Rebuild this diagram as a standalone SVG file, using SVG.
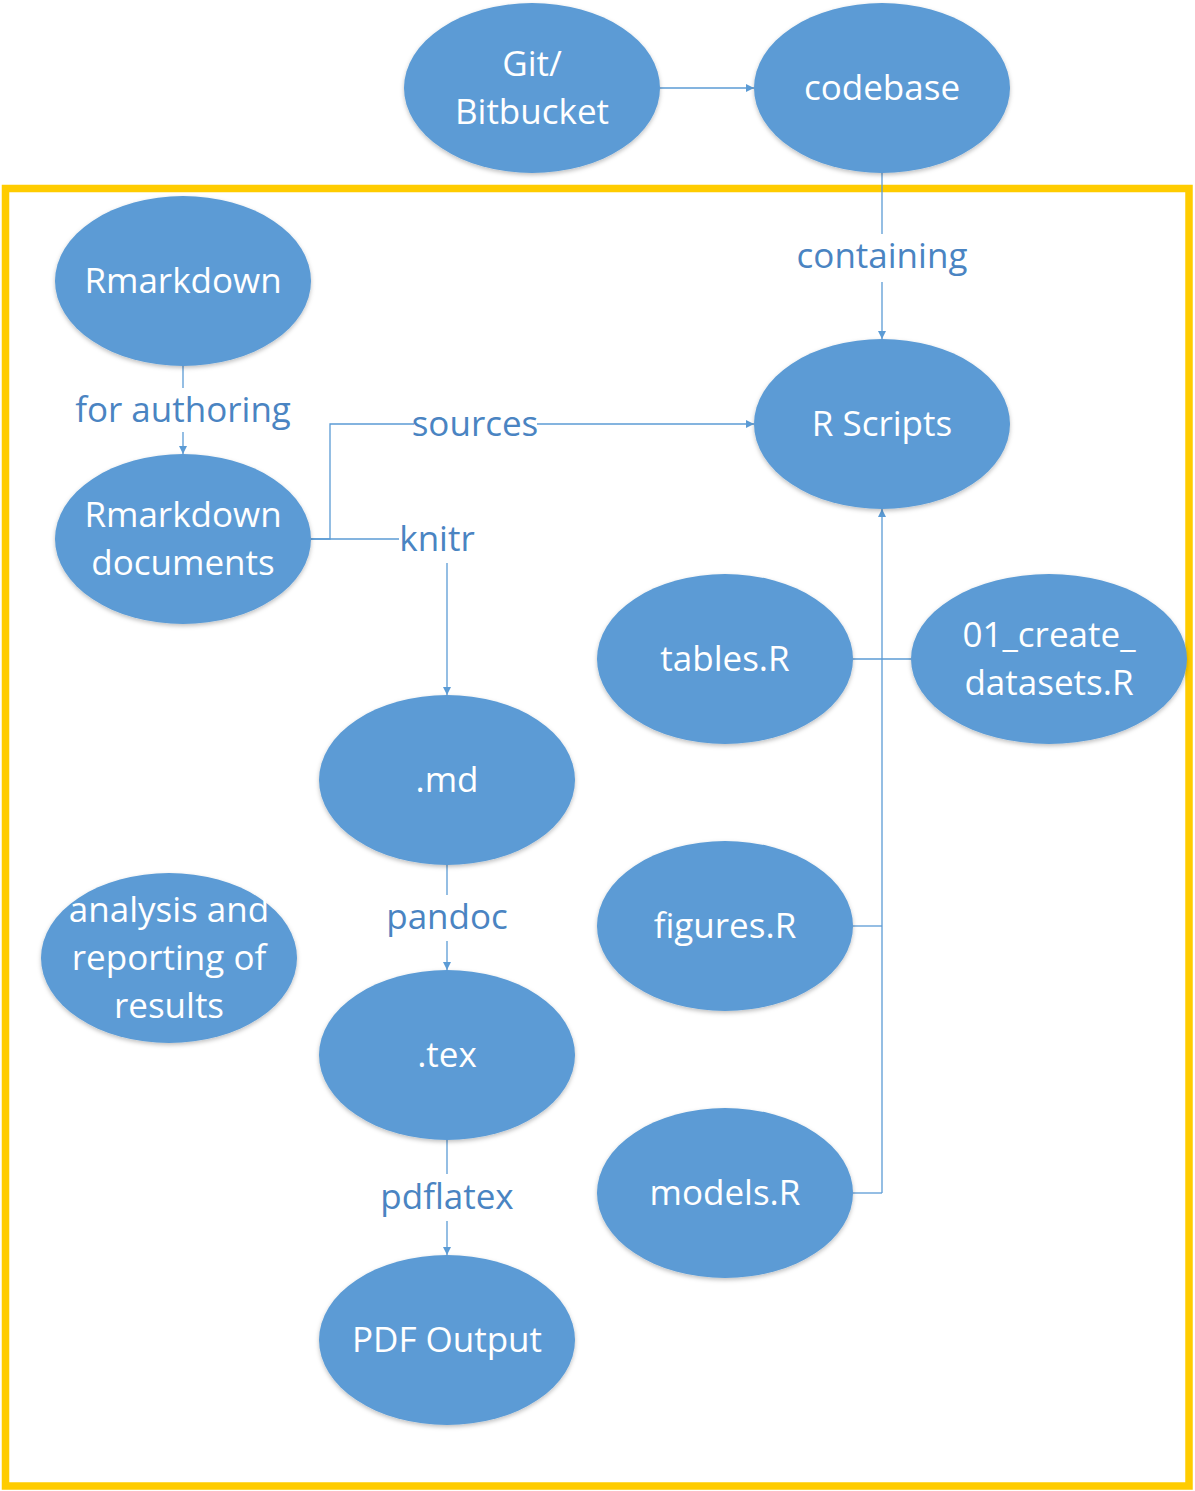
<svg xmlns="http://www.w3.org/2000/svg" width="1195" height="1491" viewBox="0 0 1195 1491">
<defs>
<style>
.node ellipse{fill:#5B9BD5;filter:url(#sh)}
.node text{fill:#ffffff;font-family:"Open Sans","Noto Sans","Liberation Sans",sans-serif;font-size:35px;text-anchor:middle}
.conn path,.conn line{stroke:#5B9BD5;stroke-width:1.3;fill:none}
.lbl{fill:#4A84C2;font-family:"Open Sans","Noto Sans","Liberation Sans",sans-serif;font-size:35px;text-anchor:middle}
.arrow{marker-end:url(#ah)}
</style>
<filter id="sh" x="-10%" y="-10%" width="120%" height="125%">
<feDropShadow dx="0" dy="2" stdDeviation="2" flood-color="#000" flood-opacity="0.25"/>
</filter>
<marker id="ah" viewBox="0 0 10 10" refX="10" refY="5" markerWidth="8" markerHeight="8" markerUnits="userSpaceOnUse" orient="auto">
<path d="M0,0 L10,5 L0,10 Z" fill="#5B9BD5"/>
</marker>
</defs>
<rect width="1195" height="1491" fill="#ffffff"/>
<rect id="frame" x="5.5" y="188.5" width="1183.5" height="1297.5" fill="none" stroke="#FFCC00" stroke-width="7.5"/>

<g id="connectors" class="conn">
<line class="arrow" x1="660" y1="88" x2="754" y2="88"/>
<line x1="882" y1="173" x2="882" y2="234"/>
<line class="arrow" x1="882" y1="282" x2="882" y2="339"/>
<line x1="183" y1="366" x2="183" y2="388"/>
<line class="arrow" x1="183" y1="432" x2="183" y2="454"/>
<path d="M311,539 H330 V424 H414"/>
<line class="arrow" x1="537" y1="424" x2="754" y2="424"/>
<line x1="311" y1="539" x2="399" y2="539"/>
<line class="arrow" x1="447" y1="563" x2="447" y2="695"/>
<line x1="447" y1="865" x2="447" y2="895"/>
<line class="arrow" x1="447" y1="941" x2="447" y2="970"/>
<line x1="447" y1="1140" x2="447" y2="1174"/>
<line class="arrow" x1="447" y1="1221" x2="447" y2="1255"/>
<line x1="853" y1="659" x2="911" y2="659"/>
<line x1="853" y1="926" x2="882" y2="926"/>
<path d="M853,1193 H882"/>
<line class="arrow" x1="882" y1="1193" x2="882" y2="509"/>
<text class="lbl" x="882" y="268">containing</text>
<text class="lbl" x="183" y="422">for authoring</text>
<text class="lbl" x="475" y="436">sources</text>
<text class="lbl" x="437" y="551">knitr</text>
<text class="lbl" x="447" y="929">pandoc</text>
<text class="lbl" x="447" y="1209">pdflatex</text>
</g>

<g id="git" class="node"><ellipse cx="532" cy="88" rx="128" ry="85"/><text x="532" y="76">Git/</text><text x="532" y="124">Bitbucket</text></g>
<g id="codebase" class="node"><ellipse cx="882" cy="88" rx="128" ry="85"/><text x="882" y="100">codebase</text></g>
<g id="rmarkdown" class="node"><ellipse cx="183" cy="281" rx="128" ry="85"/><text x="183" y="293">Rmarkdown</text></g>
<g id="rmddocs" class="node"><ellipse cx="183" cy="539" rx="128" ry="85"/><text x="183" y="527">Rmarkdown</text><text x="183" y="575">documents</text></g>
<g id="rscripts" class="node"><ellipse cx="882" cy="424" rx="128" ry="85"/><text x="882" y="436">R Scripts</text></g>
<g id="tables" class="node"><ellipse cx="725" cy="659" rx="128" ry="85"/><text x="725" y="671">tables.R</text></g>
<g id="createdatasets" class="node"><ellipse cx="1049" cy="659" rx="138" ry="85"/><text x="1049" y="647">01_create_</text><text x="1049" y="695">datasets.R</text></g>
<g id="md" class="node"><ellipse cx="447" cy="780" rx="128" ry="85"/><text x="447" y="792">.md</text></g>
<g id="analysis" class="node"><ellipse cx="169" cy="958" rx="128" ry="85"/><text x="169" y="922">analysis and</text><text x="169" y="970">reporting of</text><text x="169" y="1018">results</text></g>
<g id="figures" class="node"><ellipse cx="725" cy="926" rx="128" ry="85"/><text x="725" y="938">figures.R</text></g>
<g id="tex" class="node"><ellipse cx="447" cy="1055" rx="128" ry="85"/><text x="447" y="1067">.tex</text></g>
<g id="models" class="node"><ellipse cx="725" cy="1193" rx="128" ry="85"/><text x="725" y="1205">models.R</text></g>
<g id="pdf" class="node"><ellipse cx="447" cy="1340" rx="128" ry="85"/><text x="447" y="1352">PDF Output</text></g>
</svg>
